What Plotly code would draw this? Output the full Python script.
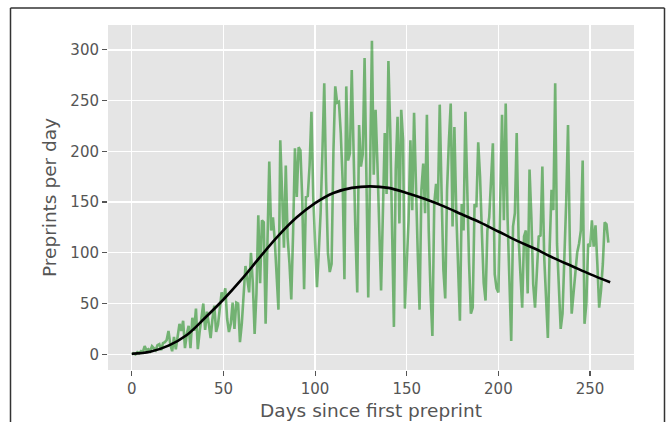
import plotly.graph_objects as go

preprints = [
    0, 1, 0, 2, 1, 3, 2, 8, 4, 5,
    3, 8, 6, 4, 9, 10, 4, 11, 12, 14,
    23, 10, 3, 17, 5, 18, 30, 23, 33, 6,
    20, 28, 6, 36, 23, 45, 5, 22, 38, 50,
    24, 42, 30, 16, 35, 48, 22, 29, 45, 61,
    55, 65, 35, 22, 30, 51, 25, 51, 50, 12,
    30, 61, 87, 74, 61, 100, 71, 20, 60, 137,
    70, 132, 130, 30, 100, 190, 122, 135, 112, 70,
    44, 211, 158, 105, 186, 115, 90, 54, 120, 203,
    155, 204, 201, 152, 64, 155, 156, 186, 239, 155,
    110, 66, 100, 139, 200, 267, 170, 100, 81, 89,
    200, 264, 248, 249, 218, 172, 74, 264, 191, 198,
    280, 195, 120, 61, 226, 185, 197, 292, 182, 56,
    180, 309, 177, 241, 188, 120, 63, 140, 218, 158,
    289, 221, 120, 27, 182, 234, 129, 241, 211, 45,
    90, 132, 211, 142, 238, 162, 100, 44, 162, 188,
    139, 236, 122, 60, 18, 148, 168, 148, 246, 160,
    83, 55, 162, 210, 247, 126, 224, 142, 80, 33,
    148, 122, 239, 155, 90, 40, 46, 148, 145, 209,
    175, 120, 70, 53, 122, 135, 170, 208, 79, 65,
    61, 155, 236, 132, 247, 135, 69, 13, 126, 139,
    218, 116, 80, 46, 116, 122, 60, 182, 135, 69,
    46, 80, 116, 117, 185, 96, 50, 16, 106, 162,
    142, 267, 109, 70, 25, 40, 89, 150, 226, 109,
    40, 60, 83, 100, 109, 122, 191, 30, 50, 109,
    106, 132, 106, 127, 89, 46, 63, 89, 130, 128,
    110,
]
days = list(range(len(preprints)))

fit_days = [0, 10, 20, 30, 40, 50, 60, 70, 80, 90, 100, 110, 120, 130,
            140, 150, 160, 170, 180, 190, 200, 210, 220, 230, 240, 250, 261]
fit_values = [0.5, 2.5, 8.5, 19, 36, 54, 74, 96, 117, 135, 149, 159, 164, 165.5,
              164, 159, 153, 146, 138, 130, 121, 112, 104, 95, 87, 79, 71]

x_ticks = [0, 50, 100, 150, 200, 250]
y_ticks = [0, 50, 100, 150, 200, 250, 300]

W, H = 667, 422
L, R, T, B = 108, 634, 25, 370


def px(x):
    return (x - L) / (R - L)


def py(y):
    return (B - y) / (B - T)


fig = go.Figure()
fig.add_trace(go.Scatter(x=days, y=preprints, mode="lines",
                         line=dict(color="rgba(0,128,0,0.5)", width=2.6),
                         showlegend=False, hoverinfo="skip"))
fig.add_trace(go.Scatter(x=fit_days, y=fit_values, mode="lines",
                         line=dict(color="black", width=2.6, shape="spline"),
                         showlegend=False, hoverinfo="skip"))

axis_common = dict(
    showgrid=True, gridcolor="white", gridwidth=1.3, zeroline=False,
    ticks="outside", ticklen=5, tickwidth=1.2, tickcolor="#555555",
    tickfont=dict(family="DejaVu Sans", size=15, color="#555555"),
    showline=False,
)

fig.update_layout(
    width=W, height=H,
    margin=dict(l=L, r=W - R, t=T, b=H - B, autoexpand=False),
    paper_bgcolor="white", plot_bgcolor="#E5E5E5",
    xaxis=dict(range=[-13, 274], tickvals=x_ticks,
               title=dict(text="Days since first preprint", standoff=7,
                          font=dict(family="DejaVu Sans", size=18.5, color="#555555")),
               **axis_common),
    yaxis=dict(range=[-15.5, 324.5], tickvals=y_ticks,
               title=dict(text="Preprints per day", standoff=8,
                          font=dict(family="DejaVu Sans", size=18.5, color="#555555")),
               **axis_common),
    shapes=[
        dict(type="line", xref="paper", yref="paper",
             x0=px(10.5), x1=px(10.5), y0=py(8), y1=py(430),
             line=dict(color="#333333", width=1.5)),
        dict(type="line", xref="paper", yref="paper",
             x0=px(10.5), x1=px(664.5), y0=py(8), y1=py(8),
             line=dict(color="#333333", width=1.5)),
        dict(type="line", xref="paper", yref="paper",
             x0=px(664.5), x1=px(664.5), y0=py(8), y1=py(430),
             line=dict(color="#333333", width=1.5)),
    ],
)

fig.write_html(
    "out.html",
    config={"displayModeBar": False, "staticPlot": True},
    post_script="document.body.style.margin='0';document.body.style.overflow='hidden';",
)
